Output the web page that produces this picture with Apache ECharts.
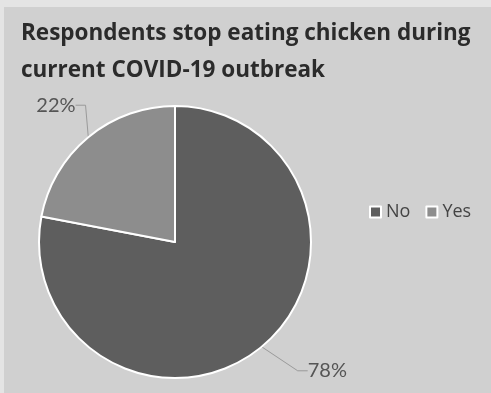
<!DOCTYPE html>
<html>
<head>
<meta charset="utf-8">
<script src="https://cdn.jsdelivr.net/npm/echarts@6/dist/echarts.min.js"></script>
<style>
  html, body { margin: 0; padding: 0; background: #e4e4e4; }
  #chart { position: absolute; left: 4px; top: 7px; width: 487px; height: 386px; background: #d0d0d0; }
</style>
</head>
<body>
<div id="chart"></div>
<script>
// Survey answers: share of respondents (percent)
const categories = ['No', 'Yes'];
const shares = [78, 22];
const sliceColors = ['#5e5e5e', '#8d8d8d'];
const titleText = 'Respondents stop eating chicken during\ncurrent COVID-19 outbreak';

const chart = echarts.init(document.getElementById('chart'));

// Label offsets from each slice's edge anchor point
const labelOffsets = {
  No: { dx: 46, dy: 24, align: 'left' },
  Yes: { dx: -52, dy: -32, align: 'left' }
};

chart.setOption({
  backgroundColor: '#d0d0d0',
  title: {
    text: titleText,
    left: 12,
    top: 3,
    textStyle: {
      fontFamily: 'Open Sans',
      fontWeight: 'bold',
      fontSize: 22.5,
      lineHeight: 37,
      color: '#2b2b2b'
    }
  },
  legend: {
    orient: 'horizontal',
    left: 360,
    top: 191,
    itemWidth: 11,
    itemHeight: 11,
    itemGap: 15,
    icon: 'rect',
    itemStyle: { borderColor: '#ffffff', borderWidth: 2 },
    textStyle: { fontFamily: 'Open Sans', fontSize: 18, color: '#444444' },
    data: categories
  },
  series: [{
    type: 'pie',
    center: [171, 235],
    radius: 136,
    startAngle: 90,
    clockwise: true,
    animation: false,
    silent: true,
    itemStyle: { borderColor: '#ffffff', borderWidth: 2 },
    label: {
      show: true,
      position: 'outside',
      formatter: '{c}%',
      fontFamily: 'Lato',
      fontSize: 20,
      color: '#555555'
    },
    labelLine: {
      show: true,
      length: 20,
      length2: 10,
      lineStyle: { color: '#9a9a9a', width: 1 }
    },
    labelLayout: function (params) {
      const off = labelOffsets[categories[params.dataIndex]];
      const anchor = params.labelLinePoints ? params.labelLinePoints[0] : [params.rect.x, params.rect.y];
      return {
        x: anchor[0] + off.dx,
        y: anchor[1] + off.dy,
        align: off.align,
        verticalAlign: 'middle'
      };
    },
    data: categories.map((name, i) => ({
      name: name,
      value: shares[i],
      itemStyle: { color: sliceColors[i] }
    }))
  }]
});
</script>
</body>
</html>
